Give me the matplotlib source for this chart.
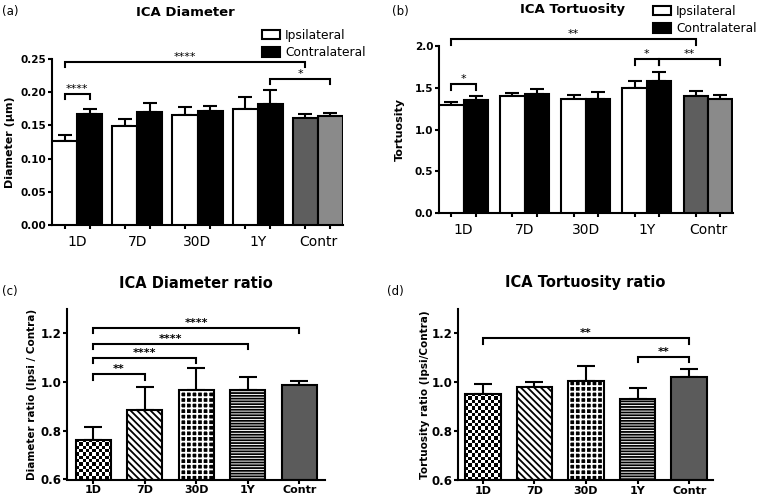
import numpy as np
import matplotlib
matplotlib.use("Agg")
import matplotlib.pyplot as plt

# --- data ---
groups = ["1D", "7D", "30D", "1Y", "Contr"]

diam_ipsi = [0.126, 0.149, 0.165, 0.175, 0.161]
diam_ipsi_err = [0.009, 0.011, 0.012, 0.018, 0.006]
diam_contra = [0.167, 0.170, 0.172, 0.182, 0.164]
diam_contra_err = [0.008, 0.014, 0.007, 0.022, 0.005]

tort_ipsi = [1.29, 1.40, 1.37, 1.50, 1.40]
tort_ipsi_err = [0.04, 0.04, 0.05, 0.08, 0.06]
tort_contra = [1.36, 1.43, 1.37, 1.58, 1.37]
tort_contra_err = [0.04, 0.06, 0.08, 0.11, 0.05]

diam_ratio = [0.761, 0.884, 0.968, 0.966, 0.986]
diam_ratio_err = [0.055, 0.095, 0.089, 0.054, 0.016]
tort_ratio = [0.953, 0.980, 1.004, 0.932, 1.023]
tort_ratio_err = [0.038, 0.020, 0.064, 0.045, 0.032]

# significance: (group, side) -> (group, side), label ; side i = ipsi, c = contra
diam_sig = [((0, "i"), (0, "c"), "****"), ((0, "i"), (4, "i"), "****"), ((3, "c"), (4, "c"), "*")]
tort_sig = [((0, "i"), (4, "i"), "**"), ((0, "i"), (0, "c"), "*"),
            ((3, "i"), (3, "c"), "*"), ((3, "c"), (4, "c"), "**")]
diam_ratio_sig = [(0, 1, "**"), (0, 2, "****"), (0, 3, "****"), (0, 4, "****")]
tort_ratio_sig = [(0, 4, "**"), (3, 4, "**")]

W, H = 760, 500
plt.rcParams["font.family"] = ["DejaVu Sans"]
plt.rcParams["hatch.linewidth"] = 1.3

fig = plt.figure(figsize=(W / 100, H / 100), dpi=100)


def px_axes(x0, x1, ytop, ybot):
    return fig.add_axes([x0 / W, 1 - ybot / H, (x1 - x0) / W, (ybot - ytop) / H])


def style_axes(ax):
    for s in ["top", "right"]:
        ax.spines[s].set_visible(False)
    for s in ["left", "bottom"]:
        ax.spines[s].set_linewidth(1.5)
    ax.tick_params(which="major", length=3, width=1.5)


def bracket(ax, x1, x2, y, leg, text, size=8, weight="normal"):
    ax.plot([x1, x1, x2, x2], [y - leg, y, y, y - leg], color="black", lw=1.5,
            clip_on=False, solid_joinstyle="miter", zorder=5)
    ax.text((x1 + x2) / 2, y, text, ha="center", va="bottom", fontsize=size,
            fontweight=weight, clip_on=False)


def checker_fill(ax, patch, cell=3.3):
    x0, y0 = patch.get_x(), patch.get_y()
    w, h = patch.get_width(), patch.get_height()
    (px0, py0), (px1, py1) = ax.transData.transform([(x0, y0), (x0 + w, y0 + h)])
    nx = max(1, round(abs(px1 - px0) / cell))
    ny = max(1, round(abs(py1 - py0) / cell))
    board = np.indices((ny, nx)).sum(axis=0) % 2
    im = ax.imshow(board, cmap="gray", extent=(x0, x0 + w, y0, y0 + h),
                   aspect="auto", interpolation="nearest", zorder=2.5)
    im.set_clip_path(patch)


def paired_panel(ax, ipsi, ipsi_err, contra, contra_err, width, ylim, yticks,
                 ylabel, sig, heights, leg, label_x):
    x = np.arange(len(groups))
    ax.set_xlim(-width - 0.005, len(groups) - 1 + width + 0.005)
    ax.set_ylim(*ylim)
    xi, xc = x - width / 2, x + width / 2
    b1 = ax.bar(xi, ipsi, width, color=["white"] * 4 + ["#5e5e5e"],
                edgecolor="black", lw=1.5, zorder=3, label="Ipsilateral")
    b2 = ax.bar(xc, contra, width, color=["black"] * 4 + ["#8a8a8a"],
                edgecolor="black", lw=1.5, zorder=3, label="Contralateral")
    ax.errorbar(xi, ipsi, yerr=[np.zeros(len(x)), ipsi_err], fmt="none",
                ecolor="black", elinewidth=1.5, capsize=4.7, capthick=1.5, zorder=2)
    ax.errorbar(xc, contra, yerr=[np.zeros(len(x)), contra_err], fmt="none",
                ecolor="black", elinewidth=1.5, capsize=4.7, capthick=1.5, zorder=2)
    style_axes(ax)
    # ticks under every bar, group names in between
    ax.set_xticks(np.sort(np.concatenate([xi, xc])), [])
    ax.set_xticks(x, groups, minor=True)
    ax.tick_params(axis="x", which="minor", length=0, pad=7, labelsize=10)
    ax.set_yticks(yticks)
    ax.tick_params(axis="y", labelsize=7.5, pad=1)
    for t in ax.get_yticklabels():
        t.set_fontweight("bold")
    ax.set_ylabel(ylabel, fontsize=8, fontweight="bold")
    ax.yaxis.set_label_coords(label_x, 0.5)
    pos = {"i": xi, "c": xc}
    for ((g1, s1), (g2, s2), txt), y in zip(sig, heights):
        bracket(ax, pos[s1][g1], pos[s2][g2], y, leg, txt)
    return b1, b2


def ratio_panel(ax, vals, errs, width, xlim, ylabel, sig, heights, leg, label_x):
    base = 0.6
    x = np.arange(len(groups))
    ax.set_xlim(*xlim)
    ax.set_ylim(base, 1.3)
    h = np.array(vals) - base
    fills = ax.bar(x, h, width, bottom=base, linewidth=0, zorder=2)
    outline = ax.bar(x, h, width, bottom=base, facecolor="none", edgecolor="black",
                     lw=1.5, zorder=3)
    fills[0].set_facecolor("white")
    fills[1].set_facecolor("white")
    fills[1].set_edgecolor("black")
    fills[1].set_hatch("\\\\\\\\\\")
    fills[2].set_facecolor("black")
    fills[2].set_edgecolor("white")
    fills[2].set_hatch("+++")
    fills[3].set_facecolor("white")
    fills[3].set_edgecolor("black")
    fills[3].set_hatch("------")
    fills[4].set_facecolor("#5b5b5b")
    checker_fill(ax, outline[0])
    ax.errorbar(x, vals, yerr=[np.zeros(len(x)), errs], fmt="none", ecolor="black",
                elinewidth=1.5, capsize=6.5, capthick=1.5, zorder=1)
    style_axes(ax)
    ax.set_xticks(x, groups)
    ax.set_yticks([0.6, 0.8, 1.0, 1.2])
    ax.tick_params(axis="x", labelsize=8, pad=1)
    ax.tick_params(axis="y", labelsize=8.5, pad=1)
    for t in ax.get_xticklabels() + ax.get_yticklabels():
        t.set_fontweight("bold")
    ax.set_ylabel(ylabel, fontsize=7.5, fontweight="bold")
    ax.yaxis.set_label_coords(label_x, 0.5)
    for (g1, g2, txt), y in zip(sig, heights):
        bracket(ax, g1, g2, y, leg, txt, size=8, weight="bold")


# (a)
ax_a = px_axes(51.7, 343.3, 59, 225)
ha = paired_panel(ax_a, diam_ipsi, diam_ipsi_err, diam_contra, diam_contra_err,
                  0.415, (0, 0.25), [0, 0.05, 0.10, 0.15, 0.20, 0.25],
                  "Diameter (\u03bcm)", diam_sig, [0.197, 0.246, 0.220], 0.0075, -0.126)
ax_a.yaxis.set_major_formatter(matplotlib.ticker.FormatStrFormatter("%.2f"))
ax_a.legend(handles=ha, loc="upper left", bbox_to_anchor=(262 / W, 1 - 29 / H),
            bbox_transform=fig.transFigure, frameon=False, fontsize=8.8,
            borderpad=0, borderaxespad=0, handlelength=1.45, handleheight=0.8,
            handletextpad=0.45, labelspacing=0.35)

# (b)
ax_b = px_axes(438.8, 732.8, 46, 213.3)
hb = paired_panel(ax_b, tort_ipsi, tort_ipsi_err, tort_contra, tort_contra_err,
                  0.4, (0, 2.0), [0, 0.5, 1.0, 1.5, 2.0],
                  "Tortuosity", tort_sig, [2.08, 1.54, 1.84, 1.84], 0.07, -0.115)
ax_b.yaxis.set_major_formatter(matplotlib.ticker.FormatStrFormatter("%.1f"))
ax_b.legend(handles=hb, loc="upper left", bbox_to_anchor=(653 / W, 1 - 5 / H),
            bbox_transform=fig.transFigure, frameon=False, fontsize=8.8,
            borderpad=0, borderaxespad=0, handlelength=1.45, handleheight=0.8,
            handletextpad=0.45, labelspacing=0.35)

# (c)
ax_c = px_axes(67, 325, 308.6, 479.5)
ratio_panel(ax_c, diam_ratio, diam_ratio_err, 0.68, (-0.51, 4.5),
            "Diameter ratio (Ipsi / Contra)", diam_ratio_sig,
            [1.031, 1.098, 1.157, 1.222], 0.022, -0.116)

# (d)
ax_d = px_axes(458, 713, 309, 480)
ratio_panel(ax_d, tort_ratio, tort_ratio_err, 0.69, (-0.48, 4.46),
            "Tortuosity ratio (Ipsi/Contra)", tort_ratio_sig,
            [1.181, 1.105], 0.024, -0.11)

# titles and panel letters
fig.text(185 / W, 1 - 12 / H, "ICA Diameter", ha="center", va="center",
         fontsize=9.5, fontweight="bold")
fig.text(572 / W, 1 - 10 / H, "ICA Tortuosity", ha="center", va="center",
         fontsize=9.5, fontweight="bold")
fig.text(196 / W, 1 - 283 / H, "ICA Diameter ratio", ha="center", va="center",
         fontsize=10.5, fontweight="bold")
fig.text(585 / W, 1 - 283 / H, "ICA Tortuosity ratio", ha="center", va="center",
         fontsize=10.5, fontweight="bold")
fig.text(10 / W, 1 - 12 / H, "(a)", ha="center", va="center", fontsize=8.5)
fig.text(400 / W, 1 - 12 / H, "(b)", ha="center", va="center", fontsize=8.5)
fig.text(10 / W, 1 - 292 / H, "(c)", ha="center", va="center", fontsize=8.5)
fig.text(395 / W, 1 - 292 / H, "(d)", ha="center", va="center", fontsize=8.5)

fig.savefig("out.png", dpi=100)
